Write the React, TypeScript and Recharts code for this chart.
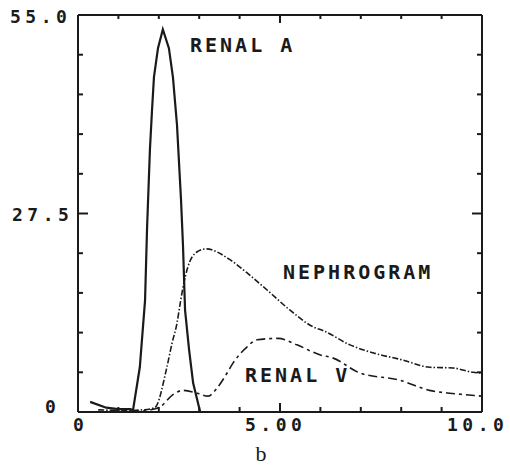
import React from "react";
import { LineChart, Line, XAxis, YAxis, Customized } from "recharts";

// ---- data (time in s, intensity) ----
const renalAT = [0.3, 0.7, 1.0, 1.3, 1.36, 1.53, 1.66, 1.71, 1.78, 1.83, 1.88, 1.98, 2.1, 2.25, 2.35, 2.45, 2.55, 2.6, 2.65, 2.75, 2.85, 3.02];
const renalAV = [1.4, 0.6, 0.4, 0.4, 0.2, 6.2, 15.5, 25.6, 36.3, 41.6, 46.4, 50.4, 53.0, 50.4, 46.4, 39.8, 29.4, 22.9, 14.1, 8.6, 4.0, 0.1];

const nephroT = [0.5, 1.2, 1.6, 1.9, 2.2, 2.33, 2.45, 2.52, 2.6, 2.72, 2.95, 3.17, 3.76, 4.18, 4.68, 5.25, 5.82, 6.1, 6.73, 7.3, 8.04, 8.71, 9.28, 9.78, 10.0];
const nephroV = [0.3, 0.2, 0.3, 0.6, 6.2, 9.6, 12.3, 14.7, 17.3, 20.1, 22.2, 22.6, 21.1, 19.3, 16.9, 14.1, 11.8, 11.2, 9.3, 8.2, 7.2, 6.2, 6.1, 5.5, 5.4];

const renalVT = [0.8, 1.4, 1.8, 2.03, 2.35, 2.6, 2.95, 3.22, 3.44, 3.69, 3.84, 4.18, 4.43, 4.95, 5.42, 6.0, 6.3, 6.98, 7.97, 8.7, 9.2, 9.6, 10.0];
const renalVV = [0.2, 0.1, 0.3, 0.7, 2.4, 3.0, 2.6, 2.2, 3.3, 5.4, 6.8, 9.0, 10.0, 10.2, 9.3, 7.9, 7.5, 5.4, 4.4, 3.0, 2.6, 2.4, 2.2];

const xTicks = [0, 1, 2, 3, 4, 5, 6, 7, 8, 9, 10];
const yTicks = [0, 5.5, 11, 16.5, 22, 27.5, 33, 38.5, 44, 49.5, 55];
const xLabels: Record<number, string> = { 0: "0", 5: "5.00", 10: "10.0" };
const yLabels: Record<number, string> = { 0: "0", 27.5: "27.5", 55: "55.0" };
const seriesNames = ["RENAL A", "NEPHROGRAM", "RENAL V"];
const panelLabel = "b";

const zip = (t: number[], v: number[]) => t.map((x, i) => ({ t: x, v: v[i] }));
const renalA = zip(renalAT, renalAV);
const nephro = zip(nephroT, nephroV);
const renalV = zip(renalVT, renalVV);

const INK = "#1a1a1a";
const MONO = "'DejaVu Sans Mono', monospace";

const isMajorX = (v: number) => v === 5;
const isMajorY = (v: number) => v === 27.5;

const BottomTick = (p: any) => {
  const v = p.payload.value;
  const len = isMajorX(v) ? 9 : 5;
  const lab = xLabels[v];
  return (
    <g>
      <line x1={p.x} x2={p.x} y1={p.y} y2={p.y - len} stroke={INK} strokeWidth={2} />
      {lab !== undefined && (
        <text x={p.x + (v === 0 ? -5 : -35)} y={p.y + 19} fontFamily={MONO} fontWeight="bold" fontSize={18} letterSpacing={4.5} fill={INK} textAnchor="start">
          {lab}
        </text>
      )}
    </g>
  );
};

const TopTick = (p: any) => {
  const v = p.payload.value;
  const len = isMajorX(v) ? 8 : 4;
  return <line x1={p.x} x2={p.x} y1={p.y} y2={p.y + len} stroke={INK} strokeWidth={2} />;
};

const LeftTick = (p: any) => {
  const v = p.payload.value;
  const len = isMajorY(v) ? 10 : 5;
  const lab = yLabels[v];
  return (
    <g>
      <line x1={p.x} x2={p.x + len} y1={p.y} y2={p.y} stroke={INK} strokeWidth={2} />
      {lab !== undefined && (
        <text x={v === 0 ? 45 : v === 27.5 ? 12 : 10} y={p.y + (v === 0 ? 1 : 7.5)} fontFamily={MONO} fontWeight="bold" fontSize={18} letterSpacing={4.5} fill={INK} textAnchor="start">
          {lab}
        </text>
      )}
    </g>
  );
};

const RightTick = (p: any) => {
  const v = p.payload.value;
  const len = isMajorY(v) ? 10 : 5;
  return <line x1={p.x} x2={p.x - len} y1={p.y} y2={p.y} stroke={INK} strokeWidth={2} />;
};

const Labels = () => (
  <g fontFamily={MONO} fontWeight="bold" fontSize={20} letterSpacing={3} fill={INK}>
    <text x={190} y={52}>{seriesNames[0]}</text>
    <text x={283} y={279}>{seriesNames[1]}</text>
    <text x={245} y={382}>{seriesNames[2]}</text>
    <text x={261} y={461} fontFamily="'Liberation Serif', serif" fontWeight="normal" fontSize={22} letterSpacing={0} textAnchor="middle">
      {panelLabel}
    </text>
  </g>
);

export default function App() {
  return (
    <div style={{ position: "absolute", left: 0, top: 0, width: 510, height: 469, background: "#fff" }}>
      <LineChart width={510} height={469} margin={{ top: 14, right: 27, bottom: 0, left: 0 }}>
        <XAxis
          xAxisId="bottom"
          type="number"
          dataKey="t"
          domain={[0, 10]}
          ticks={xTicks}
          allowDataOverflow
          height={57}
          tickSize={0}
          tickMargin={0}
          tickLine={false}
          axisLine={{ stroke: INK, strokeWidth: 2 }}
          tick={(p: any) => <BottomTick {...p} />}
          interval={0}
        />
        <XAxis
          xAxisId="top"
          orientation="top"
          type="number"
          dataKey="t"
          domain={[0, 10]}
          ticks={xTicks}
          allowDataOverflow
          height={1}
          tickSize={0}
          tickMargin={0}
          tickLine={false}
          axisLine={{ stroke: INK, strokeWidth: 2 }}
          tick={(p: any) => <TopTick {...p} />}
          interval={0}
        />
        <YAxis
          yAxisId="left"
          type="number"
          domain={[0, 55]}
          ticks={yTicks}
          allowDataOverflow
          width={78}
          tickSize={0}
          tickMargin={0}
          tickLine={false}
          axisLine={{ stroke: INK, strokeWidth: 2 }}
          tick={(p: any) => <LeftTick {...p} />}
          interval={0}
        />
        <YAxis
          yAxisId="right"
          orientation="right"
          type="number"
          domain={[0, 55]}
          ticks={yTicks}
          allowDataOverflow
          width={1}
          tickSize={0}
          tickMargin={0}
          tickLine={false}
          axisLine={{ stroke: INK, strokeWidth: 2 }}
          tick={(p: any) => <RightTick {...p} />}
          interval={0}
        />
        <Line
          data={renalA}
          xAxisId="bottom"
          yAxisId="left"
          dataKey="v"
          type="linear"
          stroke={INK}
          strokeWidth={2.2}
          dot={false}
          isAnimationActive={false}
        />
        <Line
          data={nephro}
          xAxisId="bottom"
          yAxisId="left"
          dataKey="v"
          type="monotone"
          stroke={INK}
          strokeWidth={1.6}
          strokeDasharray="6 2 1.5 2"
          dot={false}
          isAnimationActive={false}
        />
        <Line
          data={renalV}
          xAxisId="bottom"
          yAxisId="left"
          dataKey="v"
          type="monotone"
          stroke={INK}
          strokeWidth={1.6}
          strokeDasharray="9 4 3 4"
          dot={false}
          isAnimationActive={false}
        />
        <Customized component={Labels} />
      </LineChart>
    </div>
  );
}
